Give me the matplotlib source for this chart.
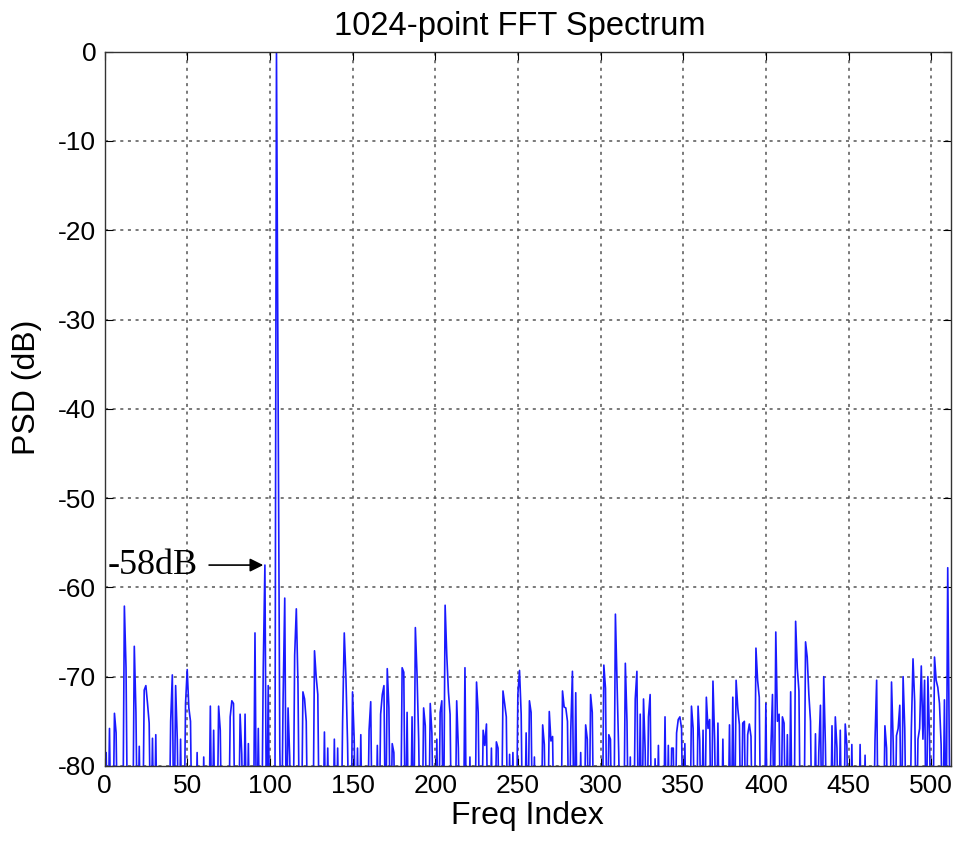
import numpy as np
import matplotlib
matplotlib.use("Agg")
import matplotlib.pyplot as plt

plt.rcParams['font.family'] = ['Liberation Sans', 'DejaVu Sans']
plt.rcParams['axes.unicode_minus'] = False

# Spectrum data: frequency index of each visible spike and its PSD level (dB).
# Indices not listed lie below the -80 dB floor of the plot.
n_points = 513
floor_db = -90.0
peak_idx = [1, 3, 6, 7, 12, 13, 18, 19, 21, 24, 25, 26, 27, 29, 31, 40, 41, 43, 44, 46,
            49, 50, 51, 52, 56, 60, 64, 66, 69, 70, 76, 77, 78, 82, 83, 85, 87, 91, 93, 96,
            97, 99, 104, 105, 106, 108, 109, 111, 112, 115, 116, 117, 120, 121, 122, 127, 128, 129, 133, 135,
            139, 141, 144, 145, 146, 147, 150, 151, 153, 155, 160, 161, 165, 167, 168, 169, 171, 172, 174, 175,
            180, 181, 183, 186, 188, 189, 190, 193, 194, 197, 198, 201, 203, 204, 206, 207, 208, 209, 213, 214,
            218, 221, 225, 226, 229, 230, 231, 234, 237, 238, 241, 242, 243, 245, 247, 250, 251, 252, 255, 257,
            258, 260, 265, 266, 269, 270, 271, 277, 278, 279, 280, 282, 283, 285, 288, 291, 292, 294, 295, 302,
            303, 305, 306, 309, 310, 311, 315, 316, 318, 321, 322, 324, 326, 327, 329, 330, 333, 335, 339, 341,
            343, 344, 346, 347, 348, 349, 351, 355, 356, 359, 360, 362, 364, 365, 366, 368, 369, 371, 374, 378,
            380, 382, 383, 384, 386, 387, 389, 390, 391, 394, 395, 396, 400, 403, 404, 406, 407, 408, 410, 411,
            413, 415, 418, 419, 420, 424, 425, 426, 427, 430, 432, 433, 435, 436, 440, 442, 443, 445, 448, 449,
            452, 457, 460, 466, 467, 472, 473, 476, 477, 479, 480, 481, 483, 484, 488, 489, 490, 492, 493, 494,
            495, 496, 498, 499, 502, 503, 504, 505, 506, 508, 510, 511]
peak_db = [-78.5, -75.8, -74.1, -76.3, -62.1, -69.0, -66.6, -74.0, -77.8, -71.5, -71.0, -73.0, -75.2, -76.9, -76.5, -75.0, -69.8, -71.0, -77.0, -77.0,
           -73.0, -69.2, -73.5, -75.0, -78.5, -79.0, -73.3, -76.0, -73.3, -76.0, -74.5, -72.7, -73.0, -74.2, -78.7, -74.2, -77.5, -65.1, -75.8, -69.0,
           -57.5, -71.0, 0.0, -39.5, -78.0, -72.5, -61.2, -73.5, -79.0, -67.6, -62.4, -70.8, -71.7, -72.5, -75.0, -67.1, -70.0, -72.0, -76.2, -78.0,
           -77.0, -78.0, -75.0, -65.1, -70.0, -77.5, -71.7, -77.0, -78.0, -76.5, -76.0, -72.8, -77.7, -74.2, -72.0, -71.0, -69.1, -73.5, -77.5, -78.5,
           -69.0, -69.5, -74.0, -74.5, -64.5, -69.7, -77.0, -73.5, -75.5, -73.0, -76.3, -77.0, -74.0, -72.7, -62.0, -67.6, -71.7, -74.2, -72.7, -78.0,
           -69.0, -79.0, -70.6, -74.0, -76.0, -77.7, -75.3, -78.0, -77.3, -78.0, -71.6, -73.0, -74.5, -78.7, -78.5, -72.0, -69.3, -74.2, -76.3, -72.7,
           -74.0, -79.0, -75.4, -77.6, -73.9, -77.2, -76.7, -71.6, -73.4, -73.5, -75.0, -76.0, -69.4, -71.8, -78.5, -75.4, -77.0, -72.0, -74.0, -68.7,
           -71.3, -76.5, -77.0, -63.0, -71.0, -78.5, -68.5, -75.0, -79.0, -72.5, -69.4, -74.2, -72.5, -78.3, -74.5, -72.0, -79.2, -77.7, -74.5, -77.7,
           -78.0, -78.0, -76.3, -74.8, -74.5, -75.8, -77.5, -73.3, -75.8, -73.3, -77.2, -76.0, -72.3, -75.8, -74.8, -70.5, -77.0, -75.2, -77.0, -75.4,
           -72.3, -70.4, -73.5, -75.4, -75.2, -75.0, -76.5, -75.3, -76.7, -66.8, -70.4, -72.3, -73.0, -78.3, -72.0, -65.0, -75.0, -74.2, -74.5, -75.2,
           -76.5, -71.7, -63.8, -69.0, -71.6, -66.1, -67.8, -72.0, -75.0, -76.4, -78.5, -73.2, -70.0, -77.6, -75.5, -74.5, -78.0, -76.0, -75.3, -77.7,
           -77.6, -77.6, -78.8, -77.2, -70.4, -75.5, -78.0, -70.6, -77.3, -76.6, -75.8, -73.2, -70.0, -75.8, -75.8, -68.0, -72.8, -77.0, -75.8, -68.8,
           -77.0, -70.4, -70.0, -77.0, -67.8, -70.4, -71.2, -73.0, -77.6, -72.6, -57.8, -79.0]

x_ticks = [0, 50, 100, 150, 200, 250, 300, 350, 400, 450, 500]
y_ticks = [0, -10, -20, -30, -40, -50, -60, -70, -80]
annot_idx = 97
annot_db = -57.5
annot_text = "-58dB"

psd = np.full(n_points, floor_db)
psd[np.array(peak_idx)] = np.array(peak_db)
freq = np.arange(n_points)

fig = plt.figure(figsize=(9.59, 8.46), dpi=100)
ax = fig.add_axes([0.109, 0.0946, 0.8827, 0.8443])

ax.plot(freq, psd, color='#1a1aff', lw=1.2)

ax.set_xlim(0, 512)
ax.set_ylim(-80, 0)
ax.set_xticks(x_ticks)
ax.set_yticks(y_ticks)
ax.tick_params(direction='in', length=6, labelsize=19, top=True, right=True, pad=6)
ax.grid(True, color='#555555', linestyle=(0, (2, 3)), lw=1.1)
for s in ax.spines.values():
    s.set_color('#333333')
    s.set_linewidth(1.0)

ax.set_title('1024-point FFT Spectrum', fontsize=23.5, pad=12, x=0.49)
ax.set_xlabel('Freq Index', fontsize=23, labelpad=2)
ax.set_ylabel('PSD (dB)', fontsize=23)
ax.yaxis.set_label_coords(-0.074, 0.53)

ax.annotate(annot_text, xy=(annot_idx - 1, annot_db), xytext=(2, annot_db),
            fontsize=26, family=['Liberation Serif', 'DejaVu Serif'], va='center', ha='left',
            arrowprops=dict(arrowstyle='-|>', color='black', lw=1.2, mutation_scale=20,
                            shrinkA=6, shrinkB=0))

fig.savefig('out.png', dpi=100)
